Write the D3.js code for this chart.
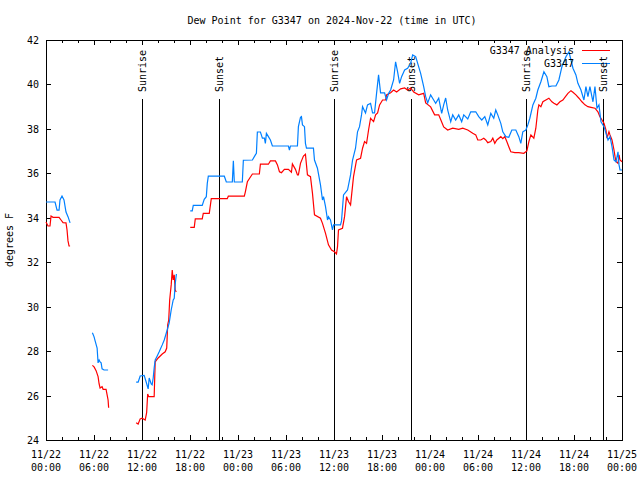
<!DOCTYPE html>
<html><head><meta charset="utf-8">
<script src="https://cdn.jsdelivr.net/npm/d3@7"></script>
<style>body{margin:0;background:#fff}svg{display:block}text{font-family:"DejaVu Sans Mono",monospace;font-size:10px;fill:#000}</style>
</head><body><svg id="c" width="640" height="480"></svg>
<script>
const titleText = "Dew Point for G3347 on 2024-Nov-22 (time in UTC)";
const yLabel = "degrees F";
const seriesNames = ["G3347 Analysis", "G3347"];
const seriesColors = ["#ff0000", "#0080ff"];
const yTicks = [24,26,28,30,32,34,36,38,40,42];
const sunLabels = ["Sunrise","Sunset","Sunrise","Sunset","Sunrise","Sunset"];
const sunHours = [12.04, 21.66, 36.04, 45.66, 60.04, 69.66];

// hours since 2024-11-22 00:00 UTC; null value = gap
const obsHours = [0,1.13,1.38,1.63,1.75,2.00,2.25,2.50,2.75,3.01, 4.4,
 5.80,6.01,6.14,6.39,6.51,6.64,6.76,6.89,7.01,7.26,7.76, 9.5,
 11.27,11.52,11.77,12.27,12.52,12.77,12.90,13.15,13.27,13.40,13.52,13.65,13.90,14.15,14.53,14.78,15.15,15.40,15.65,15.90,16.03,16.10,16.18,16.30, 17.2,
 18.03,18.28,18.41,19.53,19.78,20.04,20.16,20.29,22.29,22.54,23.29,23.42,23.54,24.54,24.67,25.80,26.17,26.30,26.42,26.80,27.05,27.30,27.42,27.55,27.80,28.05,28.30,30.30,30.43,30.55,31.43,31.55,31.81,31.93,32.06,32.31,32.43,32.56,33.43,33.56,33.93,34.31,34.56,34.69,34.94,35.19,35.31,35.56,35.81,35.94,36.81,36.94,37.19,37.69,38.07,38.32,38.69,38.94,39.19,39.44,39.57,39.94,40.19,40.57,40.82,41.07,41.32,41.57,41.82,42.32,42.57,42.83,43.08,43.45,43.70,43.95,44.20,44.45,44.83,45.20,45.58,45.83,46.21,46.46,46.83,47.21,47.46,47.71,48.08,48.46,48.71,49.09,49.46,49.71,49.96,50.21,50.59,50.84,51.21,51.59,51.96,52.22,52.72,53.09,53.72,54.09,54.47,54.85,55.22,55.60,55.97,56.22,56.47,56.85,57.10,57.48,57.85,58.23,58.73,59.10,59.35,59.60,59.98,60.23,60.48,60.86,61.23,61.48,61.86,62.24,62.61,62.86,63.24,63.74,64.11,64.49,64.99,65.37,65.62,65.87,66.24,66.49,66.87,67.24,67.49,67.74,67.99,68.37,68.62,68.87,69.12,69.37,69.75,70.00,70.25,70.50,70.75,71.00,71.25,71.50,71.63,71.75,72.00];
const obsValues = [34.71,34.71,34.34,34.34,34.80,34.98,34.80,34.26,34.05,33.77, null,
 28.83,28.64,28.46,28.14,27.47,27.60,27.51,27.47,27.20,27.15,27.15, null,
 26.60,26.60,26.88,26.91,26.61,26.30,26.79,26.52,26.48,26.79,27.24,27.60,27.78,27.97,28.28,28.50,28.95,29.27,29.85,30.30,30.38,30.80,31.11,31.47, null,
 34.31,34.31,34.56,34.56,34.83,34.95,35.55,35.87,35.87,35.61,35.61,36.56,35.61,35.61,36.59,36.60,36.83,36.90,37.86,37.86,37.58,37.58,37.35,37.80,37.65,37.50,37.23,37.23,37.05,37.23,37.23,38.10,38.52,38.55,38.18,38.10,37.35,37.13,37.13,36.60,36.23,35.48,34.80,34.95,34.50,33.90,34.05,33.90,33.45,33.68,33.68,33.86,35.03,35.25,35.93,36.60,37.13,37.87,38.10,38.63,39.00,38.72,39.08,39.15,38.72,38.72,39.60,40.43,39.62,39.62,39.30,39.60,39.75,40.20,41.02,40.57,40.05,40.35,40.65,40.73,40.95,41.33,41.25,40.95,40.50,39.90,39.45,39.17,39.53,39.30,39.15,39.38,38.70,39.08,39.39,38.85,38.32,38.63,38.40,38.63,38.32,38.63,38.45,38.77,38.77,38.55,38.40,38.55,38.18,38.70,38.48,38.85,38.63,38.25,37.87,37.65,37.62,37.95,37.95,37.65,37.35,37.87,37.95,38.18,38.48,39.08,39.38,39.75,40.12,40.57,40.35,39.90,39.93,39.93,40.20,40.80,41.25,41.47,41.10,40.73,40.43,40.05,39.75,39.30,39.90,39.45,39.90,39.22,39.90,38.93,39.08,38.32,38.10,37.80,37.50,37.65,37.20,36.60,36.52,36.97,36.38,36.15,36.15];

const anaHours = [0,0.25,0.50,0.63,0.88,1.63,1.88,2.13,2.50,2.63,2.75,2.88,3.01, 4.4,
 5.80,6.01,6.26,6.51,6.64,6.76,7.01,7.14,7.51,7.64,7.76,7.83, 9.5,
 11.27,11.52,11.77,12.02,12.40,12.58,12.71,12.84,13.52,13.65,14.02,14.53,14.90,15.09,15.21,15.34,15.46,15.65,15.78,15.90,16.03,16.15,16.28, 17.2,
 18.03,18.53,18.66,19.53,19.66,20.41,20.66,22.66,22.79,24.79,24.92,25.17,25.80,26.67,26.80,27.80,28.05,28.68,28.93,29.18,29.43,29.80,30.30,30.68,30.80,31.18,31.43,31.55,31.81,32.18,32.43,32.68,33.06,33.31,33.56,34.31,34.56,34.94,35.31,35.69,36.06,36.31,36.44,36.56,37.06,37.32,37.57,37.82,38.07,38.44,38.82,39.32,39.57,39.82,40.07,40.32,40.57,40.95,41.20,41.45,41.70,42.07,42.45,42.57,43.08,43.45,43.83,44.33,44.83,45.20,45.58,45.96,46.58,47.21,47.46,48.08,48.58,49.09,49.46,49.71,50.21,50.84,51.59,52.09,52.72,53.34,53.72,53.97,54.35,54.72,54.97,55.22,55.60,55.85,56.10,56.35,56.85,57.10,57.35,57.60,57.85,58.10,58.60,59.10,59.73,60.11,60.36,60.61,60.98,61.23,61.48,61.61,61.86,62.11,62.48,62.86,63.24,63.49,63.86,64.24,64.61,64.86,65.24,65.62,65.87,66.24,66.62,66.99,67.37,67.74,68.12,68.62,68.99,69.24,69.50,69.75,70.00,70.12,70.37,70.50,70.75,71.00,71.13,71.25,71.50,71.63,71.75,72.00];
const anaValues = [33.81,33.63,33.63,34.08,34.02,34.02,33.90,33.78,33.77,33.45,32.96,32.73,32.73, null,
 27.36,27.29,27.12,26.85,26.52,26.34,26.40,26.28,26.28,26.03,25.80,25.45, null,
 24.78,24.72,24.95,24.98,24.90,25.23,26.07,25.95,25.95,27.52,27.69,27.87,27.97,28.14,29.18,29.40,30.30,30.98,31.65,31.20,31.43,30.75,30.66, null,
 33.57,33.57,33.95,33.95,34.20,34.20,34.86,34.86,34.97,34.97,35.17,35.62,35.97,35.97,36.41,36.41,36.56,36.56,36.38,36.07,36.03,36.18,36.18,36.05,36.42,36.18,35.93,35.93,36.45,36.78,36.86,35.93,35.85,35.10,34.13,33.98,33.75,33.30,32.78,32.55,32.47,32.37,32.70,33.45,33.53,34.05,34.95,34.72,34.58,35.85,36.60,36.68,37.13,37.43,37.35,37.95,38.48,38.33,38.63,38.72,39.08,39.30,39.30,39.53,39.63,39.75,39.66,39.80,39.84,39.75,39.84,39.66,39.53,39.60,39.17,38.99,38.63,38.63,38.31,38.09,37.95,38.03,37.98,38.03,37.95,37.80,37.73,37.50,37.50,37.58,37.50,37.38,37.43,37.58,37.35,37.50,37.65,37.56,37.65,37.43,37.20,36.97,36.93,36.93,36.90,37.01,37.43,37.73,37.58,38.03,38.85,39.08,39.00,39.22,39.30,39.38,39.22,39.15,39.08,39.22,39.30,39.42,39.60,39.72,39.65,39.53,39.38,39.22,39.08,39.00,38.97,38.93,38.77,38.55,38.40,38.25,37.95,37.58,37.87,37.73,37.50,37.05,36.75,36.52,36.45,36.83,36.60,36.52];

const svg = d3.select("#c");
const W=640,H=480, L=46, R=622, T=40, B=440;
const t0 = Date.UTC(2024,10,22);
const toDate = h => new Date(t0 + h*3600e3);
const x = d3.scaleUtc().domain([toDate(0), toDate(72)]).range([L,R]);
const y = d3.scaleLinear().domain([24,42]).range([B,T]);

svg.append("rect").attr("width",W).attr("height",H).attr("fill","#fff");

// title
svg.append("text").attr("x",332).attr("y",24).attr("text-anchor","middle").text(titleText);
// y label
svg.append("text").attr("transform","translate(13,240) rotate(-90)").attr("text-anchor","middle").text(yLabel);

const g = svg.append("g").attr("shape-rendering","crispEdges");
// x ticks every 2 h, top and bottom, inward
const xt = d3.utcHour.every(2).range(toDate(0), toDate(72.01));
xt.forEach(d=>{
  const major = d.getUTCHours()%6===0;
  const len = major?5:3;
  const px = Math.round(x(d))+0.5;
  g.append("line").attr("x1",px).attr("x2",px).attr("y1",B).attr("y2",B-len).attr("stroke","#000");
  g.append("line").attr("x1",px).attr("x2",px).attr("y1",T).attr("y2",T+len).attr("stroke","#000");
});
// x labels every 6 h
const fmtD = d3.utcFormat("%m/%d"), fmtT = d3.utcFormat("%H:%M");
d3.utcHour.every(6).range(toDate(0), toDate(72.01)).forEach(d=>{
  const t = svg.append("text").attr("text-anchor","middle").attr("x",x(d));
  t.append("tspan").attr("x",x(d)).attr("y",458).text(fmtD(d));
  t.append("tspan").attr("x",x(d)).attr("y",471).text(fmtT(d));
});
// y ticks
yTicks.forEach(v=>{
  const py = Math.round(y(v))+0.5;
  g.append("line").attr("x1",L).attr("x2",L+5).attr("y1",py).attr("y2",py).attr("stroke","#000");
  g.append("line").attr("x1",R).attr("x2",R-5).attr("y1",py).attr("y2",py).attr("stroke","#000");
  svg.append("text").attr("x",39).attr("y",y(v)+4).attr("text-anchor","end").text(v);
});

// sunrise / sunset lines
sunHours.forEach((h,i)=>{
  const px = Math.round(x(toDate(h)))+0.5;
  g.append("line").attr("x1",px).attr("x2",px).attr("y1",99).attr("y2",B).attr("stroke","#000");
  svg.append("text").attr("transform",`translate(${px},92) rotate(-90)`)
    .attr("dy","0.35em").attr("text-anchor","start").text(sunLabels[i]);
});

// series
const line = d3.line().defined(d=>d[1]!==null).x(d=>x(toDate(d[0]))).y(d=>y(d[1]));
const ana = anaHours.map((h,i)=>[h,anaValues[i]]);
const obs = obsHours.map((h,i)=>[h,obsValues[i]]);
[ana, obs].forEach((data,i)=>{
  svg.append("path").datum(data).attr("d",line).attr("fill","none")
    .attr("stroke",seriesColors[i]).attr("stroke-width",1.2).attr("stroke-linejoin","miter");
});

// frame
g.append("rect").attr("x",L+0.5).attr("y",T+0.5).attr("width",R-L).attr("height",B-T)
  .attr("fill","none").attr("stroke","#000");

// legend
seriesNames.forEach((n,i)=>{
  const ly = 49.5 + i*13.5;
  svg.append("text").attr("x",574).attr("y",ly+4).attr("text-anchor","end").text(n);
  g.append("line").attr("x1",582).attr("x2",610).attr("y1",Math.round(ly)+0.5).attr("y2",Math.round(ly)+0.5)
    .attr("stroke",seriesColors[i]);
});
</script></body></html>
